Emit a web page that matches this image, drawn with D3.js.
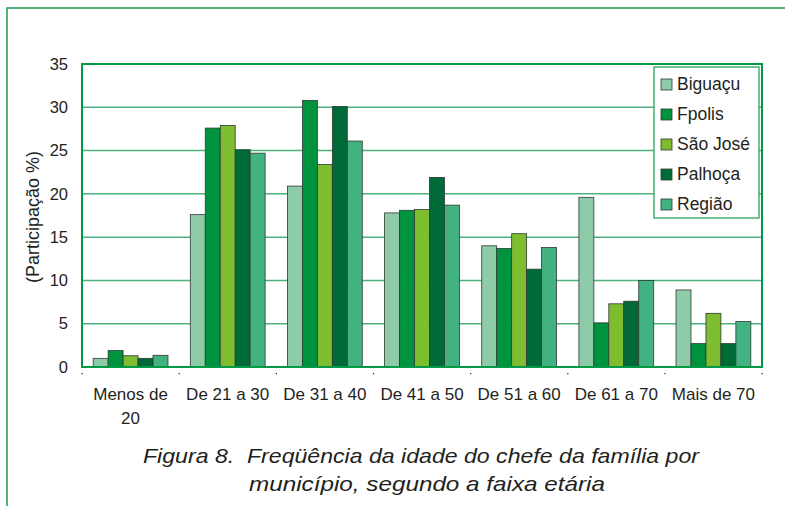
<!DOCTYPE html>
<html>
<head>
<meta charset="utf-8">
<script src="https://cdn.jsdelivr.net/npm/d3@7"></script>
<style>
  body { margin: 0; background: #fff; }
  svg { display: block; font-family: "Liberation Sans", Arial, sans-serif; }
</style>
</head>
<body>
<div id="chart"></div>
<script>
// Faixas etárias
const categories = ['Menos de 20', 'De 21 a 30', 'De 31 a 40', 'De 41 a 50', 'De 51 a 60', 'De 61 a 70', 'Mais de 70'];
const seriesNames = ['Biguaçu', 'Fpolis', 'São José', 'Palhoça', 'Região'];
const seriesColors = ['#8ecba9', '#00933f', '#7dbd2f', '#006b39', '#43b281'];

// values per series (one value per category)
const biguacu = [1.0, 17.6, 20.9, 17.8, 14.0, 19.6, 8.9];
const fpolis = [1.9, 27.6, 30.8, 18.1, 13.7, 5.1, 2.7];
const saoJose = [1.3, 27.9, 23.4, 18.2, 15.4, 7.3, 6.2];
const palhoca = [1.0, 25.1, 30.1, 21.9, 11.3, 7.6, 2.7];
const regiao = [1.35, 24.7, 26.1, 18.7, 13.8, 10.0, 5.25];

const yTicks = [0, 5, 10, 15, 20, 25, 30, 35];

const seriesValues = [biguacu, fpolis, saoJose, palhoca, regiao];

const W = 785, H = 506;
const margin = { top: 64, right: 23, bottom: 139, left: 82 };
const width = W - margin.left - margin.right;
const height = H - margin.top - margin.bottom;

const svg = d3.select('#chart').append('svg')
    .attr('width', W)
    .attr('height', H);

// outer frame (top + left)
svg.append('path')
    .attr('d', `M7,${H} L7,8 L${W},8`)
    .attr('fill', 'none')
    .attr('stroke', '#1b9a52')
    .attr('stroke-width', 1.5);

const g = svg.append('g').attr('transform', `translate(${margin.left},${margin.top})`);

const x0 = d3.scaleBand().domain(categories).range([0, width]).paddingInner(0.23).paddingOuter(0.115);
const x1 = d3.scaleBand().domain(seriesNames).range([0, x0.bandwidth()]);
const y = d3.scaleLinear().domain([0, 35]).range([height, 0]);
const color = d3.scaleOrdinal().domain(seriesNames).range(seriesColors);

// gridlines
g.selectAll('.grid')
    .data(yTicks.filter(d => d > 0 && d < 35))
    .enter().append('line')
    .attr('x1', 0).attr('x2', width)
    .attr('y1', d => y(d)).attr('y2', d => y(d))
    .attr('stroke', '#4db27f')
    .attr('stroke-width', 1.5);

// bars
const rows = categories.map((c, i) => ({ cat: c, vals: seriesNames.map((s, j) => ({ s: s, v: seriesValues[j][i] })) }));
g.selectAll('.grp')
    .data(rows)
    .enter().append('g')
    .attr('transform', d => `translate(${x0(d.cat)},0)`)
    .selectAll('rect')
    .data(d => d.vals)
    .enter().append('rect')
    .attr('x', d => x1(d.s))
    .attr('y', d => y(d.v))
    .attr('width', x1.bandwidth())
    .attr('height', d => height - y(d.v))
    .attr('fill', d => color(d.s))
    .attr('stroke', '#2d3a33')
    .attr('stroke-width', 0.8);

// plot border
g.append('rect')
    .attr('x', 0).attr('y', 0)
    .attr('width', width).attr('height', height)
    .attr('fill', 'none')
    .attr('stroke', '#009a44')
    .attr('stroke-width', 2);

// y axis labels
g.selectAll('.ylab')
    .data(yTicks)
    .enter().append('text')
    .attr('x', -14)
    .attr('y', d => y(d))
    .attr('dy', '0.35em')
    .attr('text-anchor', 'end')
    .attr('font-size', 16.5)
    .attr('fill', '#231f20')
    .text(d => d);

// small tick marks on x axis
g.selectAll('.xtick')
    .data(d3.range(categories.length + 1))
    .enter().append('rect')
    .attr('x', i => i * width / categories.length - 0.5)
    .attr('y', height + 6)
    .attr('width', 1.2).attr('height', 1.2)
    .attr('fill', '#231f20');

// x labels
const xl = g.selectAll('.xlab')
    .data(categories)
    .enter().append('text')
    .attr('x', d => x0(d) + x0.bandwidth() / 2)
    .attr('y', height + 33)
    .attr('text-anchor', 'middle')
    .attr('font-size', 17)
    .attr('fill', '#231f20');
xl.each(function (d) {
    const t = d3.select(this);
    if (d === 'Menos de 20') {
        t.append('tspan').attr('x', x0(d) + x0.bandwidth() / 2).text('Menos de');
        t.append('tspan').attr('x', x0(d) + x0.bandwidth() / 2).attr('dy', 24).text('20');
    } else {
        t.text(d);
    }
});

// y title
svg.append('text')
    .attr('transform', 'translate(39,217) rotate(-90)')
    .attr('text-anchor', 'middle')
    .attr('font-size', 18)
    .attr('fill', '#231f20')
    .text('(Participação %)');

// legend
const lg = svg.append('g').attr('transform', 'translate(654,67)');
lg.append('rect')
    .attr('width', 105).attr('height', 151)
    .attr('fill', '#fff')
    .attr('stroke', '#1b9a52')
    .attr('stroke-width', 1.2);
const li = lg.selectAll('.li')
    .data(seriesNames)
    .enter().append('g')
    .attr('transform', (d, i) => `translate(7,${17 + i * 30})`);
li.append('rect')
    .attr('x', 0).attr('y', -5)
    .attr('width', 11).attr('height', 11)
    .attr('fill', d => color(d))
    .attr('stroke', '#2d3a33')
    .attr('stroke-width', 0.8);
li.append('text')
    .attr('x', 16)
    .attr('dy', '0.35em')
    .attr('font-size', 17.5)
    .attr('fill', '#231f20')
    .text(d => d);

// caption
const cap = svg.append('text')
    .attr('text-anchor', 'middle')
    .attr('font-size', 21)
    .attr('font-style', 'italic')
    .attr('fill', '#231f20');
cap.append('tspan').attr('x', 421).attr('y', 463)
    .attr('textLength', 556).attr('lengthAdjust', 'spacingAndGlyphs')
    .text('Figura 8.\u00a0 Freqüência da idade do chefe da família por');
cap.append('tspan').attr('x', 427).attr('y', 491)
    .attr('textLength', 356).attr('lengthAdjust', 'spacingAndGlyphs')
    .text('município, segundo a faixa etária');
</script>
</body>
</html>
